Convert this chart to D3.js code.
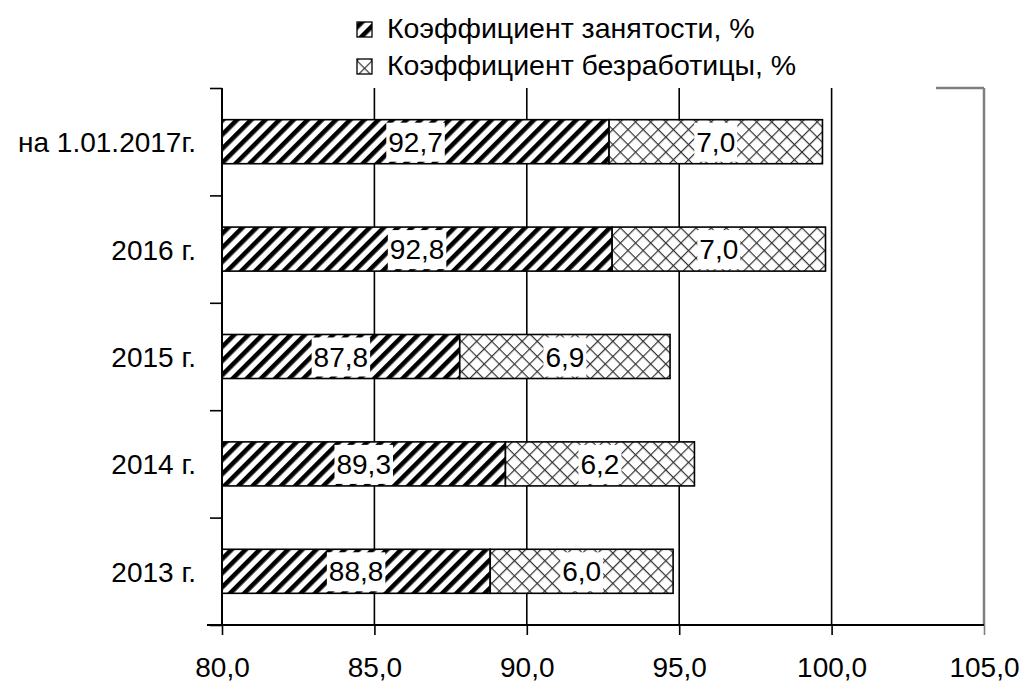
<!DOCTYPE html>
<html>
<head>
<meta charset="utf-8">
<script src="https://cdn.jsdelivr.net/npm/d3@7"></script>
<style>
  body { margin: 0; background: #fff; }
  text { font-family: "Liberation Sans", Arial, sans-serif; fill: #000; }
</style>
</head>
<body>
<svg id="chart" width="1021" height="684"></svg>
<script>
// chart values, bottom row first
var categories = ["2013 г.", "2014 г.", "2015 г.", "2016 г.", "на 1.01.2017г."];
var employment = [88.8, 89.3, 87.8, 92.8, 92.7];     // Коэффициент занятости, %
var unemployment = [6.0, 6.2, 6.9, 7.0, 7.0];        // Коэффициент безработицы, %
var seriesNames = ["Коэффициент занятости, %", "Коэффициент безработицы, %"];
var xTicks = [80, 85, 90, 95, 100, 105];

var svg = d3.select("#chart");
var plotLeft = 222, plotRight = 984, plotTop = 88, plotBottom = 625;
var fontSize = 28, legendFontSize = 28.5;

var x = d3.scaleLinear().domain([80, 105]).range([plotLeft, plotRight]);
var y = d3.scaleBand()
   .domain(categories.slice().reverse())
   .range([plotTop, plotBottom])
   .paddingInner(0.59)
   .paddingOuter(0.295);

var fmt = function(v){ return d3.format(".1f")(v).replace(".", ","); };

// patterns for the two series
var defs = svg.append("defs");
var stripes = defs.append("pattern")
   .attr("id", "stripes")
   .attr("patternUnits", "userSpaceOnUse")
   .attr("width", 10).attr("height", 10)
   .attr("patternTransform", "rotate(45)");
stripes.append("rect").attr("width", 10).attr("height", 10).attr("fill", "#fff");
stripes.append("rect").attr("x", 0).attr("width", 4.6).attr("height", 10).attr("fill", "#000");

var cross = defs.append("pattern")
   .attr("id", "cross")
   .attr("patternUnits", "userSpaceOnUse")
   .attr("width", 10.7).attr("height", 10.7)
   .attr("patternTransform", "rotate(45)");
cross.append("rect").attr("width", 10.7).attr("height", 10.7).attr("fill", "#fff");
cross.append("line").attr("x1", 0).attr("x2", 10.7).attr("y1", 0.6).attr("y2", 0.6)
   .attr("stroke", "#333").attr("stroke-width", 1.2);
cross.append("line").attr("x1", 0.6).attr("x2", 0.6).attr("y1", 0).attr("y2", 10.7)
   .attr("stroke", "#333").attr("stroke-width", 1.2);

//Vertical gridlines
svg.selectAll("line.grid")
   .data(xTicks.slice(1))
   .enter()
   .append("line")
   .attr("class", "grid")
   .attr("x1", function(d){ return x(d); })
   .attr("x2", function(d){ return x(d); })
   .attr("y1", plotTop)
   .attr("y2", plotBottom)
   .attr("stroke", function(d){ return d === 105 ? "#808080" : "#000"; })
   .attr("stroke-width", function(d){ return d === 105 ? 2.5 : 1.6; });

// piece of plot border at top right
svg.append("line")
   .attr("x1", 936).attr("x2", x(105))
   .attr("y1", plotTop).attr("y2", plotTop)
   .attr("stroke", "#808080").attr("stroke-width", 2.5);

//Bars
var rows = categories.map(function(c, i){
   return {cat: c, emp: employment[i], unemp: unemployment[i]};
});

var barG = svg.append("g");
barG.selectAll("rect.emp")
   .data(rows)
   .enter()
   .append("rect")
   .attr("class", "emp")
   .attr("x", x(80))
   .attr("y", function(d){ return y(d.cat); })
   .attr("width", function(d){ return x(d.emp) - x(80); })
   .attr("height", y.bandwidth())
   .attr("fill", "url(#stripes)")
   .attr("stroke", "#000").attr("stroke-width", 1.6);

barG.selectAll("rect.unemp")
   .data(rows)
   .enter()
   .append("rect")
   .attr("class", "unemp")
   .attr("x", function(d){ return x(d.emp); })
   .attr("y", function(d){ return y(d.cat); })
   .attr("width", function(d){ return x(d.emp + d.unemp) - x(d.emp); })
   .attr("height", y.bandwidth())
   .attr("fill", "url(#cross)")
   .attr("stroke", "#000").attr("stroke-width", 1.6);

//Data labels with white boxes
var labels = [];
rows.forEach(function(d){
   labels.push({cat: d.cat, cx: (80 + d.emp) / 2, text: fmt(d.emp)});
   labels.push({cat: d.cat, cx: d.emp + d.unemp / 2, text: fmt(d.unemp)});
});

var labG = svg.append("g");
var lab = labG.selectAll("g.lab")
   .data(labels)
   .enter()
   .append("g")
   .attr("class", "lab");
lab.append("text")
   .attr("text-anchor", "middle")
   .attr("x", function(d){ return x(d.cx); })
   .attr("y", function(d){ return y(d.cat) + y.bandwidth() / 2 + 10; })
   .style("font-size", fontSize + "px")
   .text(function(d){ return d.text; });
lab.each(function(){
   var g = d3.select(this);
   var bb = g.select("text").node().getBBox();
   var d = g.datum();
   g.insert("rect", "text")
      .attr("x", bb.x - 2)
      .attr("y", y(d.cat) + 3)
      .attr("width", bb.width + 4)
      .attr("height", y.bandwidth() - 5)
      .attr("fill", "#fff");
});

//Y axis with ticks between categories
var yIdx = d3.scaleLinear().domain([0, 5]).range([plotBottom, plotTop]);
svg.append("g")
   .attr("transform", "translate(" + plotLeft + ",0)")
   .call(d3.axisLeft(yIdx).tickValues([0, 1, 2, 3, 4, 5]).tickSize(12).tickFormat(""))
   .call(function(g){
      g.select(".domain").attr("stroke-width", 2).attr("d", "M0," + plotTop + "V" + plotBottom);
      g.selectAll(".tick line").attr("stroke-width", 1.6);
   });

svg.selectAll("text.cat")
   .data(categories)
   .enter()
   .append("text")
   .attr("class", "cat")
   .attr("text-anchor", "end")
   .attr("x", 196)
   .attr("y", function(d){ return y(d) + y.bandwidth() / 2 + 10.5; })
   .style("font-size", fontSize + "px")
   .text(function(d){ return d; });

//X axis
svg.append("g")
   .attr("transform", "translate(0," + plotBottom + ")")
   .call(d3.axisBottom(x).tickValues(xTicks).tickSize(10).tickSizeOuter(0).tickFormat(fmt))
   .call(function(g){
      g.select(".domain").attr("stroke-width", 2).attr("d", "M" + (plotLeft - 15) + ",0H" + plotRight);
      g.selectAll(".tick line").attr("stroke-width", 1.6);
      g.selectAll(".tick line").filter(function(d){ return d === 105; }).attr("stroke", "#808080");
      g.selectAll(".tick text")
         .attr("y", 0).attr("dy", null)
         .attr("transform", "translate(0,52)")
         .style("font-size", fontSize + "px")
         .attr("font-family", null);
   });

//Legend
var legend = svg.append("g");
var legRows = legend.selectAll("g")
   .data(seriesNames)
   .enter()
   .append("g")
   .attr("transform", function(d, i){ return "translate(357," + (38 + i * 37) + ")"; });
legRows.append("rect")
   .attr("x", 0).attr("y", -16)
   .attr("width", 15).attr("height", 15)
   .attr("fill", function(d, i){ return i === 0 ? "url(#stripes)" : "url(#cross)"; })
   .attr("stroke", "#000").attr("stroke-width", 1.3);
legRows.append("text")
   .attr("x", 30).attr("y", 0)
   .style("font-size", legendFontSize + "px")
   .text(function(d){ return d; });
</script>
</body>
</html>
